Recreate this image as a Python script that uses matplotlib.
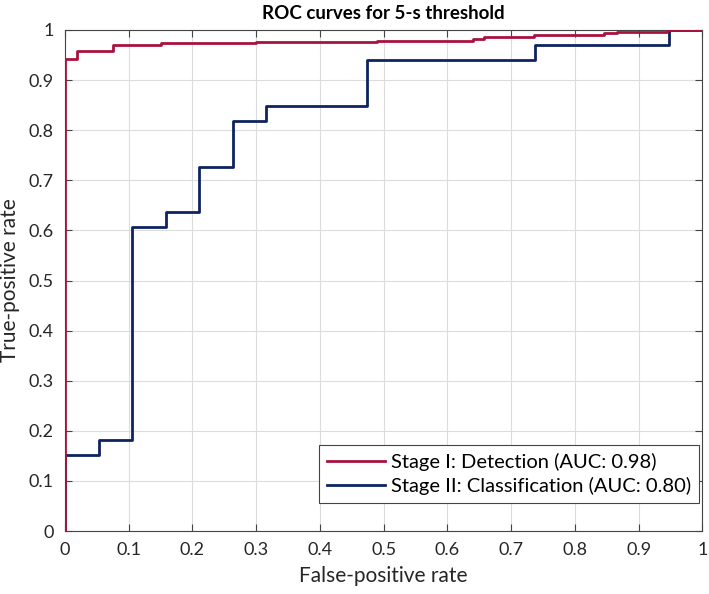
import matplotlib
matplotlib.use("Agg")
import matplotlib.pyplot as plt
import numpy as np

plt.rcParams['font.family'] = ['Lato', 'DejaVu Sans']

title = "ROC curves for 5-s threshold"
xlabel = "False-positive rate"
ylabel = "True-positive rate"
label1 = "Stage I: Detection (AUC: 0.98)"
label2 = "Stage II: Classification (AUC: 0.80)"

# Stage I (detection) ROC points (staircase)
fpr1 = [0.0, 0.0, 0.019, 0.019, 0.075, 0.075, 0.151, 0.151, 0.30, 0.30, 0.489, 0.489,
        0.64, 0.64, 0.658, 0.658, 0.736, 0.736, 0.845, 0.845, 0.866, 0.866, 0.944, 0.944, 1.0]
tpr1 = [0.0, 0.9415, 0.9415, 0.958, 0.958, 0.971, 0.971, 0.974, 0.974, 0.976, 0.976, 0.979,
        0.979, 0.983, 0.983, 0.987, 0.987, 0.991, 0.991, 0.994, 0.994, 0.997, 0.997, 1.0, 1.0]

# Stage II (classification) ROC points
fpr2 = [0.0, 0.0, 0.0526, 0.0526, 0.1053, 0.1053, 0.1579, 0.1579, 0.2105, 0.2105,
        0.2632, 0.2632, 0.3158, 0.3158, 0.4737, 0.4737, 0.7368, 0.7368, 0.9474, 0.9474, 1.0]
tpr2 = [0.0, 0.1515, 0.1515, 0.1818, 0.1818, 0.6061, 0.6061, 0.6364, 0.6364, 0.7273,
        0.7273, 0.8182, 0.8182, 0.8485, 0.8485, 0.9394, 0.9394, 0.9697, 0.9697, 1.0, 1.0]

fig = plt.figure(figsize=(7.09, 5.94), dpi=100)
ax = fig.add_axes([0.0917, 0.106, 0.899, 0.8435])

ax.plot(fpr2, tpr2, color='#0e2460', lw=2.0, label=label2, zorder=3)
ax.plot(fpr1, tpr1, color='#a8123e', lw=2.0, label=label1, zorder=4)

ax.set_xlim(0, 1)
ax.set_ylim(0, 1)
ticks = np.round(np.arange(0, 1.01, 0.1), 1)
ticklabels = ['0'] + [f"{t:.1f}" for t in ticks[1:-1]] + ['1']
ax.set_xticks(ticks)
ax.set_xticklabels(ticklabels)
ax.set_yticks(ticks)
ax.set_yticklabels(ticklabels)
ax.tick_params(direction='in', top=True, right=True, labelsize=13, length=5,
               color='#444444', labelcolor='#262626', pad=8)
ax.grid(True, color='#dcdcdc', lw=0.8)
for s in ax.spines.values():
    s.set_color('#444444')
    s.set_linewidth(0.8)

ax.set_xlabel(xlabel, fontsize=15, color='#262626', labelpad=6)
ax.set_ylabel(ylabel, fontsize=15, color='#262626', labelpad=6)
ax.set_title(title, fontsize=13.5, fontweight='bold', pad=8)

handles, labels = ax.get_legend_handles_labels()
leg = ax.legend(handles[::-1], labels[::-1], loc='lower right', fontsize=14.5,
                frameon=True, fancybox=False, edgecolor='#444444', framealpha=1,
                handlelength=2.9, bbox_to_anchor=(0.995, 0.055), borderaxespad=0,
                labelspacing=0.3, handletextpad=0.3, borderpad=0.4)
leg.get_frame().set_linewidth(0.8)

fig.savefig("out.png", dpi=100)
